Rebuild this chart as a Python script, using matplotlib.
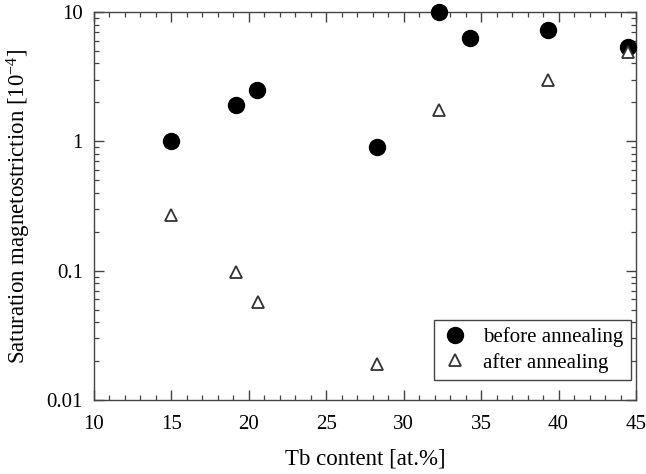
import matplotlib
matplotlib.use('Agg')
import matplotlib.pyplot as plt
from matplotlib.ticker import MultipleLocator, LogLocator, NullFormatter

plt.rcParams['font.family'] = ['Liberation Serif', 'DejaVu Serif']
plt.rcParams['mathtext.fontset'] = 'custom'
plt.rcParams['mathtext.rm'] = 'Liberation Serif'
plt.rcParams['mathtext.it'] = 'Liberation Serif:italic'

tb_before = [15.0, 19.2, 20.5, 28.3, 32.3, 34.3, 39.3, 44.5]
ms_before = [1.0, 1.9, 2.5, 0.9, 10.0, 6.3, 7.3, 5.4]
tb_after = [15.0, 19.2, 20.6, 28.3, 32.3, 39.3, 44.5]
ms_after = [0.27, 0.097, 0.057, 0.019, 1.75, 3.0, 4.9]

xticks = [10, 15, 20, 25, 30, 35, 40, 45]
yticks = [0.01, 0.1, 1, 10]
ytick_labels = ['0.01', '0.1', '1', '10']

fig = plt.figure(figsize=(6.46, 4.74), dpi=100)
ax = fig.add_axes([0.1455, 0.1561, 0.839, 0.8186])

ax.plot(tb_before, ms_before, 'o', color='black', markersize=11.5, label='before annealing',
        clip_on=False, zorder=3)
ax.plot(tb_after, ms_after, '^', markerfacecolor='white', markeredgecolor='#333333',
        markeredgewidth=1.3, markersize=9, label='after annealing', clip_on=False, zorder=4)

ax.set_yscale('log')
ax.set_xlim(10, 45)
ax.set_ylim(0.01, 10)
ax.set_xticks(xticks)
ax.set_xticklabels([str(v) for v in xticks])
ax.xaxis.set_minor_locator(MultipleLocator(1))
ax.set_yticks(yticks)
ax.set_yticklabels(ytick_labels)
ax.yaxis.set_minor_locator(LogLocator(base=10, subs=range(2, 10)))
ax.yaxis.set_minor_formatter(NullFormatter())

ax.tick_params(which='both', direction='in', top=True, right=True, colors='#444444',
               labelcolor='black', labelsize=15)
ax.tick_params(which='major', length=7, width=1.0)
ax.tick_params(which='minor', length=3.5, width=0.9)
ax.tick_params(axis='x', which='major', pad=11)
ax.tick_params(axis='y', which='major', pad=8)
for s in ax.spines.values():
    s.set_color('#444444')
    s.set_linewidth(1.0)

ax.set_xlabel('Tb content [at.%]', fontsize=16.5, labelpad=10)
ax.set_ylabel(r'Saturation magnetostriction [10$^{-4}$]', fontsize=16.5, labelpad=10)

leg = ax.legend(loc='lower right', bbox_to_anchor=(0.99, 0.052), fontsize=15,
                frameon=True, fancybox=False, edgecolor='#444444', framealpha=1,
                handletextpad=0.7, borderpad=0.35, labelspacing=0.25, handlelength=1.3,
                borderaxespad=0.0)
leg.get_frame().set_linewidth(1.0)

fig.savefig('out.png', dpi=100)
